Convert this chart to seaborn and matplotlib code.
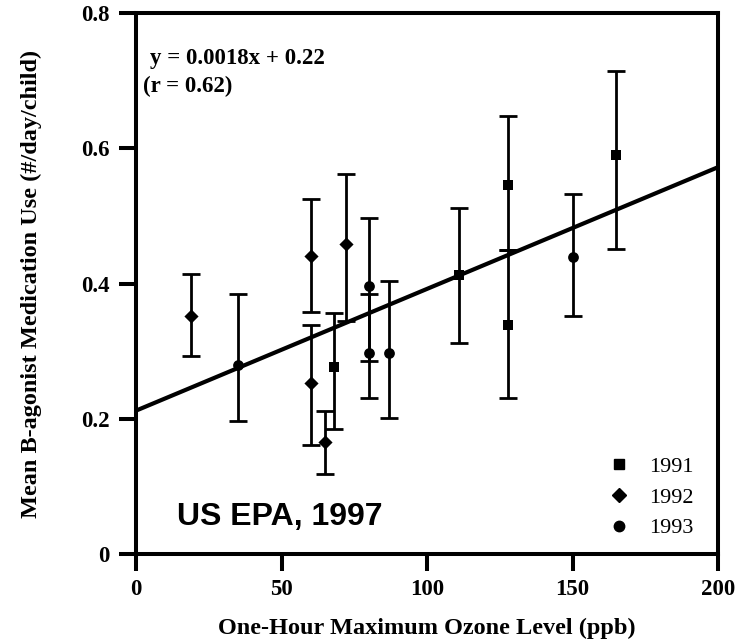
import matplotlib
matplotlib.use("Agg")
import matplotlib.pyplot as plt
from matplotlib.lines import Line2D
import pandas as pd
import seaborn as sns

# values
ozone_1991 = [68, 111, 128, 128, 165]
use_1991 = [0.277, 0.412, 0.338, 0.545, 0.590]
lo_1991 = [0.185, 0.312, 0.230, 0.450, 0.451]
hi_1991 = [0.357, 0.512, 0.450, 0.648, 0.714]

ozone_1992 = [19, 60, 60, 65, 72]
use_1992 = [0.352, 0.441, 0.253, 0.165, 0.458]
lo_1992 = [0.293, 0.358, 0.161, 0.118, 0.345]
hi_1992 = [0.414, 0.525, 0.338, 0.212, 0.562]

ozone_1993 = [35, 80, 80, 87, 150]
use_1993 = [0.279, 0.396, 0.297, 0.297, 0.439]
lo_1993 = [0.196, 0.286, 0.231, 0.201, 0.352]
hi_1993 = [0.384, 0.497, 0.384, 0.403, 0.532]

years = ["1991", "1992", "1993"]
fit_slope = 0.0018
fit_intercept = 0.212
fit_range = [0, 200]

sns.set_style("ticks")
plt.rcParams['font.family'] = ['Liberation Serif', 'DejaVu Serif']
plt.rcParams['font.weight'] = 'bold'
for k in ['text.color', 'axes.labelcolor', 'xtick.color', 'ytick.color', 'axes.edgecolor']:
    plt.rcParams[k] = 'black'

df = pd.DataFrame({
    "ozone": ozone_1991 + ozone_1992 + ozone_1993,
    "use": use_1991 + use_1992 + use_1993,
    "lo": lo_1991 + lo_1992 + lo_1993,
    "hi": hi_1991 + hi_1992 + hi_1993,
    "year": ["1991"] * 5 + ["1992"] * 5 + ["1993"] * 5,
})

fig = plt.figure(figsize=(7.38, 6.43), dpi=100)
ax = fig.add_axes([136 / 738, 89 / 643, 582 / 738, 541 / 643])

# error bars
ax.errorbar(df["ozone"], df["use"],
            yerr=[df["use"] - df["lo"], df["hi"] - df["use"]],
            fmt='none', ecolor='black', elinewidth=2.0, capsize=6.5, capthick=2.0, zorder=2)

# fitted line
fit = pd.DataFrame({"x": fit_range})
fit["y"] = fit_slope * fit["x"] + fit_intercept
sns.lineplot(data=fit, x="x", y="y", color='black', linewidth=3.0, ax=ax, zorder=3)

markers = {"1991": "s", "1992": "D", "1993": "o"}
sizes = {"1991": 55, "1992": 52, "1993": 60}
for yr in years:
    sub = df[df["year"] == yr]
    sns.scatterplot(data=sub, x="ozone", y="use", marker=markers[yr], s=sizes[yr],
                    color='black', edgecolor='black', linewidth=0, ax=ax, zorder=4)

ax.set_xlim(0, 200)
ax.set_ylim(0, 0.8)
ax.set_xticks([0, 50, 100, 150, 200])
ax.set_xticklabels(["0", "50", "100", "150", "200"])
ax.set_yticks([0, 0.2, 0.4, 0.6, 0.8])
ax.set_yticklabels(["0", "0.2", "0.4", "0.6", "0.8"])
for s in ax.spines.values():
    s.set_linewidth(2.9)
    s.set_visible(True)
ax.tick_params(direction='out', length=12, width=2.9, labelsize=16.5)
ax.tick_params(axis='x', pad=6)
ax.tick_params(axis='y', pad=7)
for lab in ax.get_xticklabels() + ax.get_yticklabels():
    lab.set_fontweight('bold')

ax.set_xlabel("One-Hour Maximum Ozone Level (ppb)", fontsize=17.5, fontweight='bold')
ax.set_ylabel("Mean B-agonist Medication Use (#/day/child)", fontsize=17.5, fontweight='bold')
ax.xaxis.set_label_coords(0.5, -0.118)
ax.yaxis.set_label_coords(-0.162, 0.5)

ax.text(4.8, 0.733, "y = 0.0018x + 0.22", fontsize=16.5, fontweight='bold', va='center')
ax.text(2.5, 0.691, "(r = 0.62)", fontsize=16.5, fontweight='bold', va='center')
ax.text(14, 0.043, "US EPA, 1997", fontsize=23, fontweight='bold',
        family=['Liberation Sans', 'DejaVu Sans'], va='baseline')

handles = [Line2D([], [], linestyle='none', marker=markers[y], color='black',
                  markersize=7.5 if y != "1991" else 7) for y in years]
leg = ax.legend(handles, years, loc='lower left', bbox_to_anchor=(0.777, -0.008),
                frameon=False, fontsize=16, handlelength=1.0, handletextpad=0.83,
                labelspacing=0.45, borderpad=0.4)
for t in leg.get_texts():
    t.set_fontweight('normal')

fig.savefig("out.png", dpi=100)
